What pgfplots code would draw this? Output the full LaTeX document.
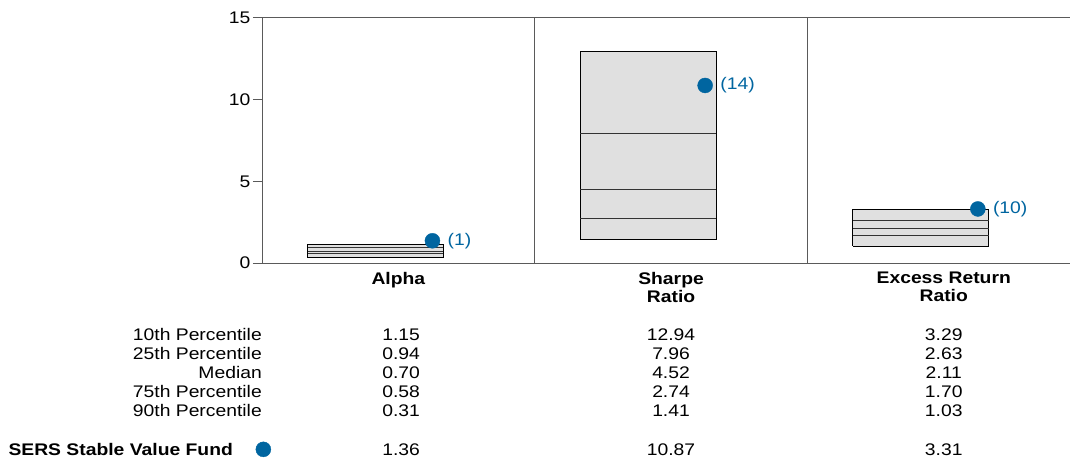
\documentclass[border=0pt]{standalone}
\usepackage{fontspec}
\setmainfont{Liberation Sans}[FakeStretch=1.15]
\usepackage{pgfplots}
\pgfplotsset{compat=1.18}
\definecolor{fundblue}{RGB}{0,101,160}
\definecolor{boxgray}{RGB}{224,224,224}
\definecolor{axgray}{RGB}{90,90,90}
\newcommand\f{\fontsize{16.8}{18.2}\selectfont}
\begin{document}
\begin{tikzpicture}[font=\f]
\path[use as bounding box] (0,0) rectangle (1070pt,459pt);
\begin{axis}[
  at={(262pt,196pt)}, anchor=south west,
  scale only axis, width=808pt, height=245pt,
  xmin=0, xmax=2.963, ymin=0, ymax=15,
  clip=false,
  axis line style={draw=none},
  ytick={0,5,10,15},
  tick align=outside,
  major tick length=9pt,
  y tick style={draw=axgray, line width=1pt},
  x tick style={draw=none},
  xtick={0.5,1.5,2.5},
  xticklabels={Alpha,{Sharpe\\Ratio},{Excess Return\\Ratio}},
  xticklabel style={font=\f\bfseries, align=center, yshift=3.5pt},
  yticklabel style={font=\f, xshift=1pt},
  /pgf/number format/assume math mode=true,
]
% axis frame (no right edge)
\draw[axgray, line width=1pt] (rel axis cs:0,0) -- (rel axis cs:1,0);
\draw[axgray, line width=1pt] (rel axis cs:0,1) -- (rel axis cs:1,1);
\draw[axgray, line width=1pt] (axis cs:0,0) -- (axis cs:0,15);
\draw[axgray, line width=1pt] (axis cs:1,0) -- (axis cs:1,15);
\draw[axgray, line width=1pt] (axis cs:2,0) -- (axis cs:2,15);
% boxes (10th to 90th percentile)
\addplot[draw=black, fill=boxgray, line width=1pt] coordinates {(0.167,0.31) (0.665,0.31) (0.665,1.15) (0.167,1.15) (0.167,0.31)};
\addplot[draw=black, fill=boxgray, line width=1pt] coordinates {(1.167,1.41) (1.665,1.41) (1.665,12.94) (1.167,12.94) (1.167,1.41)};
\addplot[draw=black, fill=boxgray, line width=1pt] coordinates {(2.167,1.03) (2.665,1.03) (2.665,3.29) (2.167,3.29) (2.167,1.03)};
% inner percentile lines
\addplot[draw=black!80, line width=0.8pt] coordinates {(0.167,0.94) (0.665,0.94)};
\addplot[draw=black!80, line width=0.8pt] coordinates {(0.167,0.70) (0.665,0.70)};
\addplot[draw=black!80, line width=0.8pt] coordinates {(0.167,0.58) (0.665,0.58)};
\addplot[draw=black!80, line width=0.8pt] coordinates {(1.167,7.96) (1.665,7.96)};
\addplot[draw=black!80, line width=0.8pt] coordinates {(1.167,4.52) (1.665,4.52)};
\addplot[draw=black!80, line width=0.8pt] coordinates {(1.167,2.74) (1.665,2.74)};
\addplot[draw=black!80, line width=0.8pt] coordinates {(2.167,2.63) (2.665,2.63)};
\addplot[draw=black!80, line width=0.8pt] coordinates {(2.167,2.11) (2.665,2.11)};
\addplot[draw=black!80, line width=0.8pt] coordinates {(2.167,1.70) (2.665,1.70)};
% fund points
\addplot[only marks, mark=*, mark size=7.5pt, color=fundblue,
  point meta=explicit symbolic,
  nodes near coords,
  nodes near coords style={anchor=west, inner sep=0pt, xshift=15pt, text=fundblue, font=\f}]
  coordinates {(0.625,1.36) [(1)] (1.625,10.87) [(14)] (2.625,3.31) [(10)]};
% legend dot for the fund row
\addplot[only marks, mark=*, mark size=7.5pt, color=fundblue] coordinates {(0.005,-11.41)};
% table row labels
\begin{scope}[every node/.append style={inner sep=0pt}]
\node[anchor=base east] at (axis cs:0,-4.757) {10th Percentile};
\node[anchor=base east] at (axis cs:0,-5.896) {25th Percentile};
\node[anchor=base east] at (axis cs:0,-7.06) {Median};
\node[anchor=base east] at (axis cs:0,-8.22) {75th Percentile};
\node[anchor=base east] at (axis cs:0,-9.37) {90th Percentile};
\node[anchor=base east, font=\f\bfseries] at (axis cs:-0.106,-11.76) {SERS Stable Value Fund};
% table values
\node[anchor=base] at (axis cs:0.51,-4.757) {1.15};
\node[anchor=base] at (axis cs:0.51,-5.896) {0.94};
\node[anchor=base] at (axis cs:0.51,-7.06) {0.70};
\node[anchor=base] at (axis cs:0.51,-8.22) {0.58};
\node[anchor=base] at (axis cs:0.51,-9.37) {0.31};
\node[anchor=base] at (axis cs:0.51,-11.76) {1.36};
\node[anchor=base] at (axis cs:1.5,-4.757) {12.94};
\node[anchor=base] at (axis cs:1.5,-5.896) {7.96};
\node[anchor=base] at (axis cs:1.5,-7.06) {4.52};
\node[anchor=base] at (axis cs:1.5,-8.22) {2.74};
\node[anchor=base] at (axis cs:1.5,-9.37) {1.41};
\node[anchor=base] at (axis cs:1.5,-11.76) {10.87};
\node[anchor=base] at (axis cs:2.5,-4.757) {3.29};
\node[anchor=base] at (axis cs:2.5,-5.896) {2.63};
\node[anchor=base] at (axis cs:2.5,-7.06) {2.11};
\node[anchor=base] at (axis cs:2.5,-8.22) {1.70};
\node[anchor=base] at (axis cs:2.5,-9.37) {1.03};
\node[anchor=base] at (axis cs:2.5,-11.76) {3.31};
\end{scope}
\end{axis}
\end{tikzpicture}
\end{document}
